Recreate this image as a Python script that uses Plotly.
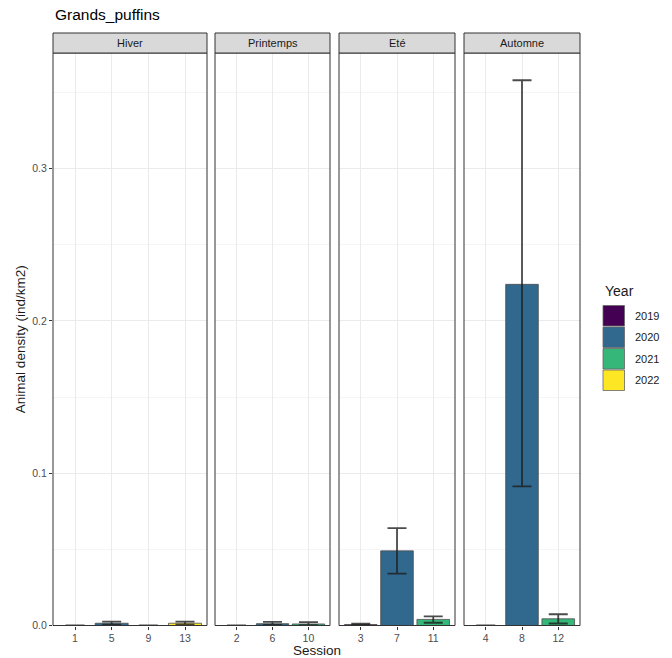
import plotly.graph_objects as go

# ---- data ----
seasons = ["Hiver", "Printemps", "Eté", "Automne"]
season_sessions = {
    "Hiver": ["1", "5", "9", "13"],
    "Printemps": ["2", "6", "10"],
    "Eté": ["3", "7", "11"],
    "Automne": ["4", "8", "12"],
}
session_year = {"1": 2019, "2": 2019, "3": 2019, "4": 2019,
                "5": 2020, "6": 2020, "7": 2020, "8": 2020,
                "9": 2021, "10": 2021, "11": 2021, "12": 2021,
                "13": 2022}
density = {"1": 0.0, "5": 0.0015, "9": 0.0, "13": 0.0015,
           "2": 0.0, "6": 0.0012, "10": 0.0010,
           "3": 0.0006, "7": 0.049, "11": 0.0040,
           "4": 0.0, "8": 0.224, "12": 0.0044}
lower = {"1": 0.0, "5": 0.0005, "9": 0.0, "13": 0.0005,
         "2": 0.0, "6": 0.0004, "10": 0.0003,
         "3": 0.0001, "7": 0.034, "11": 0.0018,
         "4": 0.0, "8": 0.0913, "12": 0.0013}
upper = {"1": 0.00001, "5": 0.0026, "9": 0.00001, "13": 0.0026,
         "2": 0.00001, "6": 0.0024, "10": 0.0022,
         "3": 0.0012, "7": 0.064, "11": 0.0060,
         "4": 0.00001, "8": 0.358, "12": 0.0074}
years = [2019, 2020, 2021, 2022]
year_colors = {2019: "#440154", 2020: "#31688E", 2021: "#35B779", 2022: "#FDE725"}

W, H = 672, 658
FONT = "Liberation Sans, Arial, sans-serif"
panel_px = [(53, 207), (215, 330), (339, 455), (464, 580)]
top_px, bot_px = 53, 625.5
strip_top = 33

fig = go.Figure()
for yr in years:
    for i, s in enumerate(seasons):
        xs = [x for x in season_sessions[s] if session_year[x] == yr]
        if not xs:
            continue
        ax = "" if i == 0 else str(i + 1)
        fig.add_trace(go.Bar(
            x=xs, y=[density[x] for x in xs],
            xaxis="x" + ax, yaxis="y" + ax,
            width=0.9,
            marker=dict(color=year_colors[yr], line=dict(color="#4D4D4D", width=0.8)),
            error_y=dict(type="data", symmetric=False,
                         array=[upper[x] - density[x] for x in xs],
                         arrayminus=[density[x] - lower[x] for x in xs],
                         color="rgba(30,30,30,0.8)", thickness=1.8, width=9.5),
            name=str(yr), showlegend=False,
        ))

ymax = max(upper.values()) * 1.05
layout = dict(
    width=W, height=H, autosize=False,
    margin=dict(l=0, r=0, t=0, b=0),
    plot_bgcolor="white", paper_bgcolor="white",
    barmode="overlay",
    font=dict(family=FONT, color="#1A1A1A"),
    showlegend=False,
)
ydom = [1 - bot_px / H, 1 - top_px / H]
shapes = []
annotations = []
for i, s in enumerate(seasons):
    ax = "" if i == 0 else str(i + 1)
    x0, x1 = panel_px[i]
    layout["xaxis" + ax] = dict(
        domain=[x0 / W, x1 / W], anchor="y" + ax, type="category",
        categoryorder="array", categoryarray=season_sessions[s],
        range=[-0.6, len(season_sessions[s]) - 0.4],
        showgrid=True, gridcolor="#EBEBEB", gridwidth=1,
        ticks="outside", ticklen=3, tickcolor="#333333",
        tickfont=dict(size=10.5, color="#4D4D4D", family=FONT),
        showline=False, zeroline=False, fixedrange=True, automargin=False,
    )
    yd = dict(
        domain=ydom, anchor="x" + ax, range=[0, ymax],
        showgrid=True, gridcolor="#EBEBEB", gridwidth=1,
        zeroline=False, showline=False,
        minor=dict(dtick=0.05, tick0=0, showgrid=True, gridcolor="#F5F5F5", gridwidth=0.6),
        tickvals=[0, 0.1, 0.2, 0.3], ticktext=["0.0", "0.1", "0.2", "0.3"],
        fixedrange=True, automargin=False,
    )
    if i == 0:
        yd.update(ticks="outside", ticklen=3, tickcolor="#333333",
                  tickfont=dict(size=10.5, color="#4D4D4D", family=FONT),
                  title=dict(text="Animal density (ind/km2)", font=dict(size=13.5, color="#1A1A1A"), standoff=3))
    else:
        yd.update(showticklabels=False, ticks="")
    layout["yaxis" + ax] = yd
    # panel border
    shapes.append(dict(type="rect", xref="paper", yref="paper",
                       x0=x0 / W, x1=x1 / W, y0=ydom[0], y1=ydom[1],
                       line=dict(color="#333333", width=1), fillcolor="rgba(0,0,0,0)", layer="above"))
    # strip
    shapes.append(dict(type="rect", xref="paper", yref="paper",
                       x0=x0 / W, x1=x1 / W, y0=ydom[1], y1=1 - strip_top / H,
                       line=dict(color="#333333", width=1), fillcolor="#D9D9D9"))
    annotations.append(dict(text=s, xref="paper", yref="paper",
                            x=(x0 + x1) / 2 / W, y=1 - (strip_top + top_px) / 2 / H,
                            showarrow=False, xanchor="center", yanchor="middle",
                            font=dict(size=11, color="#1A1A1A", family=FONT)))

# legend (ggplot-style keys)
leg_x0, key_sz, leg_top = 603, 21.5, 305
annotations.append(dict(text="Year", xref="paper", yref="paper",
                        x=leg_x0 / W, y=1 - 291 / H, showarrow=False,
                        xanchor="left", yanchor="middle",
                        font=dict(size=14, color="#1A1A1A", family=FONT)))
for k, yr in enumerate(years):
    ky0 = leg_top + k * key_sz
    shapes.append(dict(type="rect", xref="paper", yref="paper",
                       x0=leg_x0 / W, x1=(leg_x0 + key_sz) / W,
                       y0=1 - (ky0 + key_sz - 0.5) / H, y1=1 - (ky0 + 0.5) / H,
                       fillcolor=year_colors[yr], line=dict(color="#666666", width=0.8)))
    annotations.append(dict(text=str(yr), xref="paper", yref="paper",
                            x=(leg_x0 + key_sz + 8) / W, y=1 - (ky0 + key_sz / 2) / H,
                            showarrow=False, xanchor="left", yanchor="middle",
                            font=dict(size=11, color="#1A1A1A", family=FONT)))

annotations.append(dict(text="Session", xref="paper", yref="paper",
                        x=(53 + 580) / 2 / W, y=1 - 650.5 / H, showarrow=False,
                        xanchor="center", yanchor="middle",
                        font=dict(size=13.5, color="#1A1A1A", family=FONT)))
annotations.append(dict(text="Grands_puffins", xref="paper", yref="paper",
                        x=53 / W, y=1 - 15 / H, showarrow=False,
                        xanchor="left", yanchor="middle",
                        font=dict(size=15.5, color="#000000", family=FONT)))
layout["shapes"] = shapes
layout["annotations"] = annotations
fig.update_layout(**layout)
fig.write_html("out.html",
               config={"responsive": False, "displayModeBar": False},
               post_script="document.body.style.margin='0';document.body.style.overflow='hidden';")
